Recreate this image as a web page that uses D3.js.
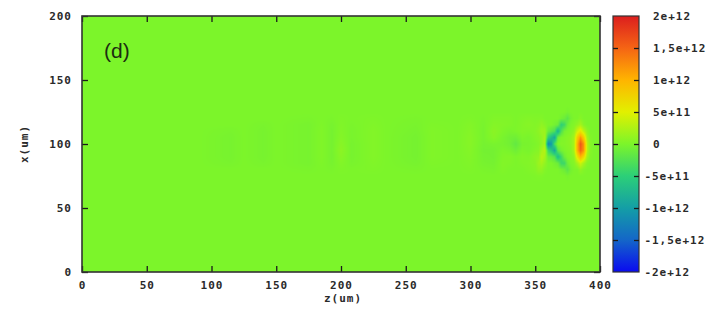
<!DOCTYPE html>
<html>
<head>
<meta charset="utf-8">
<script src="https://cdn.jsdelivr.net/npm/d3@7"></script>
<style>
  body { margin: 0; background: #fff; }
  svg { display: block; }
  .lbl { font-family: "DejaVu Sans Mono", monospace; font-weight: bold; font-size: 11px; fill: #2a2a2a; letter-spacing: 1px; }
</style>
</head>
<body>
<svg id="chart" width="714" height="323"></svg>
<script>
// Axis ticks
const zTicks = [0, 50, 100, 150, 200, 250, 300, 350, 400];
const xTicks = [0, 50, 100, 150, 200];
const cbTickValues = [2e12, 1.5e12, 1e12, 5e11, 0, -5e11, -1e12, -1.5e12, -2e12];
const cbTickLabels = ["2e+12", "1,5e+12", "1e+12", "5e+11", "0", "-5e+11", "-1e+12", "-1,5e+12", "-2e+12"];

// Colour palette (value -> colour)
const paletteValues = [-2e12, -1.5e12, -1e12, -5e11, 0, 5e11, 1e12, 1.5e12, 2e12];
const paletteColors = ["#0a0af0", "#1466c8", "#149ea6", "#2ccf78", "#7cf52a", "#e2f000", "#ffb400", "#f56414", "#dc1e1e"];

// Field samples: rows along x (um), columns along z (um); values in units of 1e11.
// Outside the sampled window the field is zero.
const xRows = [70, 75, 80, 85, 90, 95, 100, 105, 110, 115, 120, 125, 130];
const zCols = [90, 115, 125, 140, 150, 175, 185, 193, 200, 208, 225, 235, 258, 270, 290,
               300, 310, 318, 325, 330, 335, 340, 345, 350, 352.5, 355, 357.5, 360, 362.5,
               365, 367.5, 370, 372.5, 375, 377.5, 380, 382.5, 385, 387.5, 390, 392.5, 395, 400];
const profiles = [
  [0, 0, 0, 0, 0, 0, 0, 0, 0, 0, 0, 0, 0],                                  // 90
  [0, 0, 0, -0.2, -0.3, -0.3, -0.3, -0.3, -0.2, 0, 0, 0, 0],                // 115
  [0, 0, 0, 0, 0, 0, 0, 0, 0, 0, 0, 0, 0],                                  // 125
  [0, 0, 0, -0.2, -0.3, -0.3, -0.3, -0.3, -0.3, -0.2, 0, 0, 0],             // 140
  [0, 0, 0, 0, 0, 0, 0, 0, 0, 0, 0, 0, 0],                                  // 150
  [0, 0, -0.1, -0.3, -0.3, -0.3, -0.3, -0.3, -0.3, -0.3, -0.1, 0, 0],       // 175
  [0, 0, 0, 0.1, 0.2, 0.2, 0.2, 0.2, 0.2, 0.1, 0, 0, 0],                    // 185
  [0, 0, -0.1, -0.3, -0.4, -0.4, -0.4, -0.4, -0.4, -0.3, -0.1, 0, 0],       // 193
  [0, 0, 0.1, 0.3, 0.6, 0.8, 0.6, 0.4, 0.3, 0.2, 0.1, 0, 0],                // 200
  [0, 0, 0, -0.2, -0.3, -0.3, -0.3, -0.2, -0.2, -0.1, 0, 0, 0],             // 208
  [0, 0, 0.1, 0.2, 0.3, 0.3, 0.3, 0.3, 0.3, 0.2, 0.1, 0, 0],                // 225
  [0, 0, 0, 0, 0, 0, 0, 0, 0, 0, 0, 0, 0],                                  // 235
  [0, 0, -0.1, -0.3, -0.4, -0.4, -0.4, -0.4, -0.3, -0.2, -0.1, 0, 0],       // 258
  [0, 0, 0, 0.1, 0.2, 0.2, 0.2, 0.2, 0.2, 0.1, 0, 0, 0],                    // 270
  [0, 0, 0, 0, 0, 0, 0, 0, 0, 0, 0, 0, 0],                                  // 290
  [0, 0, 0.1, 0.2, 0.3, 0.4, 0.5, 0.5, 0.4, 0.3, 0.1, 0, 0],                // 300
  [0, 0, -0.1, -0.3, -0.4, -0.5, -0.4, -0.3, -0.3, -0.2, -0.1, 0, 0],       // 310
  [0, 0, -0.2, -0.4, -0.5, -0.5, -0.2, 0.5, 0.7, 0.4, 0.2, 0, 0],           // 318
  [0, 0, 0.2, 0.3, 0.2, 0, -0.3, -0.2, 0.1, 0.3, 0.2, 0, 0],                // 325
  [0, 0, 0, 0.2, 0.3, -0.2, -0.6, -0.6, -0.2, 0.2, 0.2, 0, 0],              // 330
  [0, 0, 0, 0, 0, -0.8, -1.6, -0.8, 0, 0, 0, 0, 0],                         // 335
  [0, 0, 0, 0.2, 0.3, 0, -0.3, 0, 0.3, 0.3, 0.2, 0, 0],                     // 340
  [0, 0, 0.2, 0.3, 0.2, -0.2, -0.2, -0.2, 0.2, 0.5, 0.3, 0, 0],             // 345
  [0, 0.1, 0.4, 0.6, 0.8, 0.3, 0, 0.3, 0.4, 0.3, 0.2, 0, 0],                // 350
  [0, 0.2, 1.0, 1.5, 1.0, 0.5, 0.3, 0.5, 0.8, 0.5, 0.2, 0, 0],              // 352.5
  [0, 0.2, 1.0, 2.0, 3.0, 2.0, 1.0, 1.0, 1.5, 1.0, 0.3, 0, 0],              // 355
  [0, 0, 0.3, 1.0, 2.0, 3.0, 2.0, 2.0, 1.5, 0.5, 0, 0, 0],                  // 357.5
  [0, 0, 0, 0, -1.0, -4.0, -12.0, -5.0, -1.0, 0, 0, 0, 0],                  // 360
  [0, 0, 0, 0, -1.5, -6.0, -10.0, -7.0, -2.0, 0, 0, 0, 0],                  // 362.5
  [0, 0, 0, -0.5, -2.5, -9.0, -3.0, -9.0, -3.0, -0.5, 0, 0, 0],             // 365
  [0, 0, 0, -1.0, -7.0, -2.0, 0, -1.0, -8.0, -1.0, 0, 0, 0],                // 367.5
  [0, 0, -0.5, -4.0, -4.0, -0.5, 0.3, 0, -3.0, -5.0, -0.5, 0, 0],           // 370
  [0, 0, -1.0, -4.0, -1.0, 0, 0.3, 0.2, -0.5, -4.0, -1.0, 0, 0],            // 372.5
  [0, -0.3, -2.0, -1.0, 0, 0.3, 0.5, 0.5, 0, -1.0, -2.0, -0.3, 0],          // 375
  [0, 0, -0.5, 0, 0.3, 0.5, 0.8, 0.8, 0.3, 0, -0.5, 0, 0],                  // 377.5
  [0, 0, 0, 0.3, 1.0, 2.0, 2.0, 2.0, 1.0, 0.3, 0, 0, 0],                    // 380
  [0, 0, 0, 2.0, 6.0, 10.0, 10.0, 8.0, 4.0, 1.0, 0, 0, 0],                  // 382.5
  [0, 0, 1.0, 4.0, 10.0, 15.0, 16.0, 12.0, 6.0, 2.0, 0.5, 0, 0],            // 385
  [0, 0, 0.3, 2.0, 7.0, 12.0, 12.0, 8.0, 3.0, 0.5, 0, 0, 0],                // 387.5
  [0, 0, 0, 0.5, 2.0, 3.0, 3.0, 2.0, 1.0, 0, 0, 0, 0],                      // 390
  [0, 0, 0, 0, 0.3, 0.5, 0.5, 0.3, 0, 0, 0, 0, 0],                          // 392.5
  [0, 0, 0, 0, 0, 0, 0, 0, 0, 0, 0, 0, 0],                                  // 395
  [0, 0, 0, 0, 0, 0, 0, 0, 0, 0, 0, 0, 0]                                   // 400
];
const valueUnit = 1e11;

const svg = d3.select("#chart");
const plot = { left: 82, right: 600, top: 16, bottom: 272 };
const bar = { left: 613, right: 639 };

const zScale = d3.scaleLinear().domain([0, 400]).range([plot.left, plot.right]);
const xScale = d3.scaleLinear().domain([0, 200]).range([plot.bottom, plot.top]);
const cScale = d3.scaleLinear().domain([-2e12, 2e12]).range([plot.bottom, plot.top]);
const color = d3.scaleLinear().domain(paletteValues).range(paletteColors).clamp(true);

// Bilinear lookup of the sampled field
const colBisect = d3.bisector(d => d).right;
function fieldAt(z, x) {
  if (z <= zCols[0] || z >= zCols[zCols.length - 1]) return 0;
  if (x <= xRows[0] || x >= xRows[xRows.length - 1]) return 0;
  const j = colBisect(zCols, z) - 1;
  const i = colBisect(xRows, x) - 1;
  const tz = (z - zCols[j]) / (zCols[j + 1] - zCols[j]);
  const tx = (x - xRows[i]) / (xRows[i + 1] - xRows[i]);
  const a = profiles[j][i], b = profiles[j + 1][i];
  const c = profiles[j][i + 1], d = profiles[j + 1][i + 1];
  const v = (a * (1 - tz) + b * tz) * (1 - tx) + (c * (1 - tz) + d * tz) * tx;
  return v * valueUnit;
}

// Raster of the field, one pixel per screen pixel
const W = plot.right - plot.left, H = plot.bottom - plot.top;
const canvas = document.createElement("canvas");
canvas.width = W; canvas.height = H;
const ctx = canvas.getContext("2d");
const img = ctx.createImageData(W, H);
for (let py = 0; py < H; py++) {
  const xv = xScale.invert(plot.top + py + 0.5);
  for (let px = 0; px < W; px++) {
    const zv = zScale.invert(plot.left + px + 0.5);
    const c = d3.rgb(color(fieldAt(zv, xv)));
    const k = (py * W + px) * 4;
    img.data[k] = c.r; img.data[k + 1] = c.g; img.data[k + 2] = c.b; img.data[k + 3] = 255;
  }
}
ctx.putImageData(img, 0, 0);

svg.append("image")
  .attr("x", plot.left).attr("y", plot.top)
  .attr("width", W).attr("height", H)
  .attr("preserveAspectRatio", "none")
  .attr("href", canvas.toDataURL());

// Axes with inward ticks on all four sides
function styleAxis(g) {
  g.select(".domain").remove();
  g.selectAll(".tick line").attr("stroke", "#1a1a1a").attr("stroke-width", 1.3);
  g.selectAll(".tick text").attr("class", "lbl").attr("fill", null);
  g.attr("font-family", null).attr("font-size", null);
}
svg.append("g").attr("transform", `translate(0,${plot.bottom})`)
  .call(d3.axisBottom(zScale).tickValues(zTicks).tickSize(-6).tickPadding(9).tickFormat(d3.format("d")))
  .call(styleAxis);
svg.append("g").attr("transform", `translate(0,${plot.top})`)
  .call(d3.axisTop(zScale).tickValues(zTicks).tickSize(-6).tickFormat(""))
  .call(styleAxis);
svg.append("g").attr("transform", `translate(${plot.left},0)`)
  .call(d3.axisLeft(xScale).tickValues(xTicks).tickSize(-6).tickPadding(10).tickFormat(d3.format("d")))
  .call(styleAxis);
svg.append("g").attr("transform", `translate(${plot.right},0)`)
  .call(d3.axisRight(xScale).tickValues(xTicks).tickSize(-6).tickFormat(""))
  .call(styleAxis);

svg.append("rect")
  .attr("x", plot.left).attr("y", plot.top).attr("width", W).attr("height", H)
  .attr("fill", "none").attr("stroke", "#333").attr("stroke-width", 1.6);

// Axis titles
svg.append("text").attr("class", "lbl")
  .attr("x", (plot.left + plot.right) / 2 + 2).attr("y", 302)
  .attr("text-anchor", "middle").text("z(um)");
svg.append("text").attr("class", "lbl")
  .attr("transform", `translate(28,${(plot.top + plot.bottom) / 2}) rotate(-90)`)
  .attr("text-anchor", "middle").text("x(um)");

// Panel tag
svg.append("text")
  .attr("x", 104).attr("y", 58)
  .attr("font-family", "'Liberation Sans', Arial, sans-serif")
  .attr("font-size", 21).attr("fill", "#1c2e10")
  .text("(d)");

// Colour bar
const defs = svg.append("defs");
const grad = defs.append("linearGradient").attr("id", "cbGrad")
  .attr("x1", 0).attr("y1", 1).attr("x2", 0).attr("y2", 0);
paletteValues.forEach((v, i) => {
  grad.append("stop")
    .attr("offset", (v - paletteValues[0]) / (paletteValues[paletteValues.length - 1] - paletteValues[0]))
    .attr("stop-color", paletteColors[i]);
});
svg.append("rect")
  .attr("x", bar.left).attr("y", plot.top)
  .attr("width", bar.right - bar.left).attr("height", H)
  .attr("fill", "url(#cbGrad)").attr("stroke", "#333").attr("stroke-width", 1.2);

const innerTicks = cbTickValues.slice(1, -1);
svg.append("g").attr("transform", `translate(${bar.left},0)`)
  .call(d3.axisLeft(cScale).tickValues(innerTicks).tickSize(-5).tickFormat(""))
  .call(styleAxis);
svg.append("g").attr("transform", `translate(${bar.right},0)`)
  .call(d3.axisRight(cScale).tickValues(innerTicks).tickSize(-5).tickFormat(""))
  .call(styleAxis);

const cbText = svg.append("g").selectAll("text")
  .data(cbTickValues)
  .join("text")
  .attr("class", "lbl")
  .attr("y", d => cScale(d))
  .attr("dy", "0.35em")
  .text((d, i) => cbTickLabels[i]);
const signProbe = svg.append("text").attr("class", "lbl").text("-");
const signW = signProbe.node().getComputedTextLength() + 1;
signProbe.remove();
cbText.attr("x", (d, i) => cbTickLabels[i].startsWith("-") ? 653 - signW : 653);
</script>
</body>
</html>
